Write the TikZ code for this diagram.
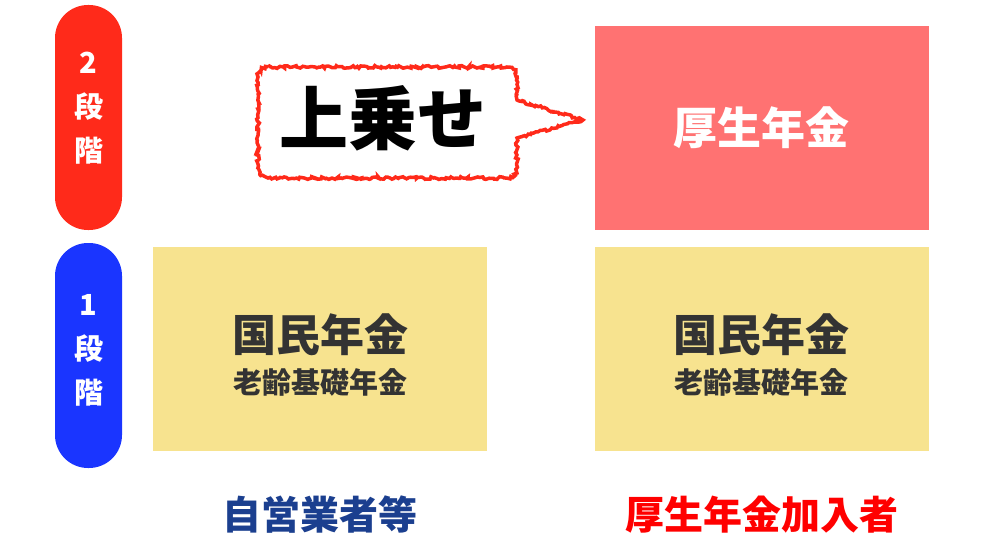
\documentclass[tikz,border=0pt]{standalone}
\usepackage{fontspec}
\newfontfamily\jpfont{Noto Sans CJK JP}
\usetikzlibrary{decorations.pathmorphing}

\definecolor{stepred}{HTML}{FF2A1A}
\definecolor{stepblue}{HTML}{1A35FF}
\definecolor{koseipink}{HTML}{FF7272}
\definecolor{kokuminyellow}{HTML}{F7E38F}
\definecolor{tiertext}{HTML}{333333}
\definecolor{labelblue}{HTML}{1B3F8F}
\definecolor{labelred}{HTML}{FF0000}

\tikzset{
  pill/.style={rounded corners=33pt, minimum width=67pt, minimum height=225pt, inner sep=0pt},
  pilltext/.style={text=white, align=center, font=\jpfont\bfseries\fontsize{29}{44}\selectfont},
  tier/.style={minimum width=334pt, minimum height=204pt, inner sep=0pt},
  bigtext/.style={font=\jpfont\bfseries\fontsize{44}{50}\selectfont},
  smalltext/.style={font=\jpfont\bfseries\fontsize{29}{32}\selectfont},
  groupname/.style={font=\jpfont\bfseries\fontsize{39}{44}\selectfont},
  callout/.style={draw=stepred, fill=white, line width=3.5pt,
    decorate, decoration={random steps, segment length=2pt, amplitude=1.4pt}},
}

\begin{document}
\begin{tikzpicture}[x=1pt,y=-1pt]
    \useasboundingbox (0,0) rectangle (1000,540);

    %Shape: tier pills
    \node [pill, fill=stepred] (pill2) at (88.5,117.5) {};
    \node [pill, fill=stepblue] (pill1) at (88.5,355.5) {};
    % Text Node
    \node [pilltext] (pill2text) at (88.5,108) {2\\段\\階};
    % Text Node
    \node [pilltext] (pill1text) at (88.5,350) {1\\段\\階};

    %Shape: second tier box
    \node [tier, fill=koseipink] (kosei) at (761.5,128) {};
    \node [bigtext, text=white] (koseitext) at (kosei) {厚生年金};

    %Shape: first tier boxes
    \node [tier, fill=kokuminyellow] (kokuminL) at (320,348.5) {};
    \node [tier, fill=kokuminyellow] (kokuminR) at (761.5,348.5) {};
    % Text Node
    \node [bigtext, text=tiertext] (kokuminLtext) at (320,335) {国民年金};
    \node [smalltext, text=tiertext] (roureiL) at (320,382) {老齢基礎年金};
    % Text Node
    \node [bigtext, text=tiertext] (kokuminRtext) at (761.5,335) {国民年金};
    \node [smalltext, text=tiertext] (roureiR) at (761.5,382) {老齢基礎年金};

    %Shape: callout
    \draw [callout] (268,67) -- (507,67) arc[start angle=-90, end angle=0, radius=10]
        -- (517,100) -- (583,120) -- (517,138) -- (517,168)
        arc[start angle=0, end angle=90, radius=10] -- (268,178)
        arc[start angle=90, end angle=180, radius=10] -- (258,77)
        arc[start angle=180, end angle=270, radius=10] -- cycle;
    % Text Node
    \node [font=\jpfont\bfseries\fontsize{69}{72}\selectfont] (uwanose) at (383,118) {上乗せ};

    % Text Node
    \node [groupname, text=labelblue] (jiei) at (320,515) {自営業者等};
    % Text Node
    \node [groupname, text=labelred] (kanyu) at (761.5,515) {厚生年金加入者};

\end{tikzpicture}
\end{document}
